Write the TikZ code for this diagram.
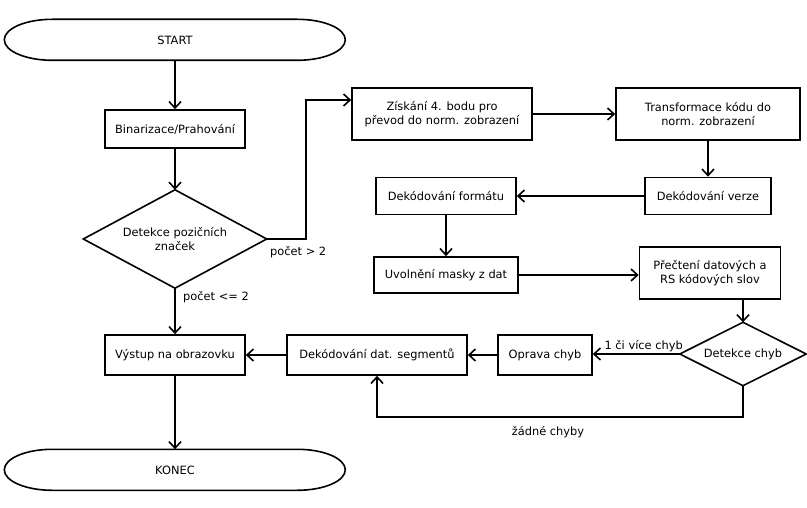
\documentclass[tikz,border=0pt]{standalone}
\usepackage{fontspec}
\setmainfont{DejaVu Sans}
\usetikzlibrary{arrows.meta}
\begin{document}
\begin{tikzpicture}[x=1pt,y=-1pt,
  every node/.style={font=\fontsize{11.4}{14}\selectfont},
  box/.style={draw,line width=1.6pt,rectangle,align=center,inner sep=0pt},
  termtext/.style={rectangle,inner sep=0pt,minimum width=341pt,minimum height=41pt},
  dectext/.style={rectangle,align=center,inner sep=0pt},
  flow/.style={line width=1.6pt,-{Straight Barb[length=6.5pt,width=12pt,line width=1.6pt]}},
  edge/.style={line width=1.6pt,line join=miter},
  lbl/.style={inner sep=0pt}
]
\useasboundingbox (0,0) rectangle (807,508);

% terminals (text holders, outline drawn below)
\node[termtext] (start) at (175,40) {START};
\node[termtext] (end)   at (175,470) {KONEC};
\foreach \t in {start,end}{
  \draw[edge] (\t.north west) ++(48,0) -- ++(245,0)
    arc[start angle=-90,end angle=90,x radius=48,y radius=20.5]
    -- ++(-245,0)
    arc[start angle=90,end angle=270,x radius=48,y radius=20.5] -- cycle;
}

% left column
\node[box,minimum width=140pt,minimum height=38pt] (bin) at (175,129) {Binarizace/Prahování};
\node[dectext,minimum width=183pt,minimum height=98pt] (det) at (175,239) {Detekce pozičních\\značek};
\node[box,minimum width=140pt,minimum height=40pt] (out) at (175,355) {Výstup na obrazovku};

% upper right block
\node[box,minimum width=180pt,minimum height=52pt] (get4)  at (442,114) {Získání 4. bodu pro\\převod do norm. zobrazení};
\node[box,minimum width=184pt,minimum height=52pt] (trans) at (708,114) {Transformace kódu do\\norm. zobrazení};
\node[box,minimum width=126pt,minimum height=37pt] (ver)   at (708,196) {Dekódování verze};
\node[box,minimum width=140pt,minimum height=37pt] (fmt)   at (446,196) {Dekódování formátu};
\node[box,minimum width=144pt,minimum height=36pt] (mask)  at (446,275) {Uvolnění masky z dat};
\node[box,minimum width=141pt,minimum height=52pt] (read)  at (710,273) {Přečtení datových a\\RS kódových slov};

% error handling row
\node[dectext,minimum width=126pt,minimum height=63pt] (errdet) at (743,354) {Detekce chyb};
\node[box,minimum width=94pt,minimum height=40pt]  (fix)    at (545,355) {Oprava chyb};
\node[box,minimum width=180pt,minimum height=40pt] (seg)    at (377,355) {Dekódování dat. segmentů};

% decision outlines
\foreach \d in {det,errdet}{
  \draw[edge] (\d.north) -- (\d.east) -- (\d.south) -- (\d.west) -- cycle;
}

% connectors
\draw[flow] (start) -- (bin);
\draw[flow] (bin) -- (det.north);
\draw[flow] (det.south) -- (out);
\node[lbl,anchor=west] (lle) at (183,297) {počet <= 2};
\coordinate (up) at (306,100);
\draw[flow] (det.east) -| (up) -- (up -| get4.west);
\node[lbl,anchor=west] (lgt) at (270,252) {počet > 2};
\draw[flow] (get4) -- (trans);
\draw[flow] (trans) -- (ver);
\draw[flow] (ver) -- (fmt);
\draw[flow] (fmt) -- (mask);
\draw[flow] (mask.east) -- (mask.east -| read.west);
\draw[flow] (errdet.north |- read.south) -- (errdet.north);
\draw[flow] (errdet.west) -- (errdet.west -| fix.east);
\node[lbl,anchor=south east] (lerr) at (683,352) {1 či více chyb};
\draw[flow] (fix) -- (seg);
\draw[flow] (seg) -- (out);
\coordinate (loop) at (743,417);
\draw[flow] (errdet.south) -- (loop) -| (seg.south);
\node[lbl] (lnone) at (548,432) {žádné chyby};
\draw[flow] (out) -- (end);
\end{tikzpicture}
\end{document}
